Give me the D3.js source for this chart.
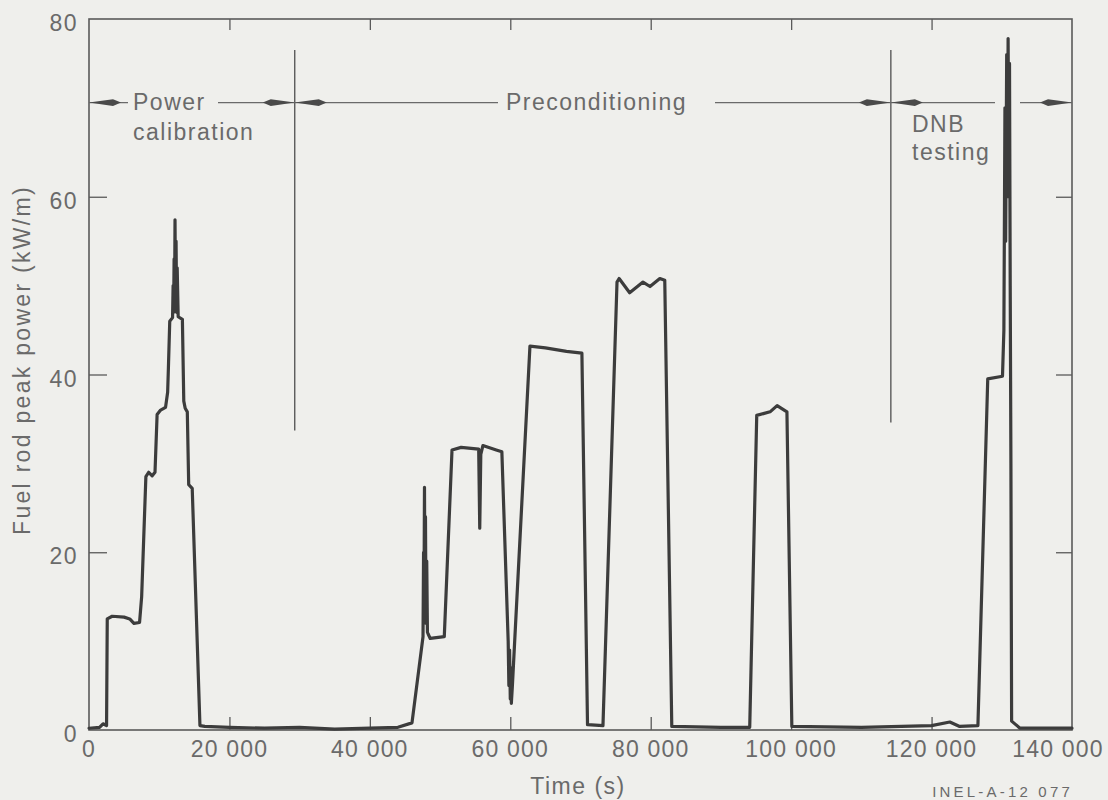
<!DOCTYPE html>
<html>
<head>
<meta charset="utf-8">
<script src="https://cdn.jsdelivr.net/npm/d3@7"></script>
<style>
  html, body { margin: 0; padding: 0; background: #efefec; }
  svg { display: block; }
  text { font-family: "Liberation Sans", Arial, sans-serif; fill: #6a6a6a; }
</style>
</head>
<body>
<svg id="chart" width="1108" height="800"></svg>
<script>
// ---- data (time in s, fuel rod peak power in kW/m) ----
const timeS = [
  0, 1500, 2000, 2500, 2600, 3300, 5000, 5800, 6400, 7200, 7500, 8100, 8500, 9000, 9400,
  9700, 10200, 10900, 11200, 11300, 11500, 11900, 11980, 12050, 12120, 12190, 12250, 12320,
  12400, 12480, 12560, 12700, 13300, 13500, 13700, 14000, 14200, 14700, 15800, 16500, 20000,
  25000, 30000, 35000, 40000, 44000, 46000, 47570, 47650, 47700, 47780, 47850, 47920, 48000,
  48100, 48200, 48300, 48600, 50600, 51700, 53000, 55500, 55650, 55800, 56100, 58000, 58800,
  59700, 59800, 59900, 60000, 60100, 60150, 60300, 62800, 65000, 68000, 70200, 71000, 73200,
  75200, 75500, 77000, 78900, 79900, 81300, 82000, 83000, 90000, 94100, 95100, 97000, 98000,
  99400, 100100, 110000, 120000, 122600, 124000, 126600, 128000, 130100, 130300, 130450,
  130550, 130700, 130800, 130900, 131000, 131100, 131200, 131300, 131400, 132600, 140000
];
const powerKWm = [
  0.2, 0.3, 0.7, 0.5, 12.5, 12.8, 12.7, 12.5, 12.0, 12.1, 15, 28.5, 29.0, 28.6, 29.0,
  35.5, 36.0, 36.3, 38, 40.5, 46.0, 46.4, 50, 47, 53, 48, 57.4, 49,
  55, 47, 52, 46.5, 46.2, 37, 36.2, 35.8, 27.6, 27.2, 0.5, 0.4, 0.3,
  0.2, 0.3, 0.1, 0.2, 0.3, 0.8, 10.5, 20, 13, 27.3, 14, 24, 12,
  19, 11, 10.8, 10.3, 10.5, 31.5, 31.8, 31.6, 22.7, 31.0, 32.0, 31.5, 31.3,
  10, 5, 9, 3.5, 7, 3.0, 5, 43.2, 43.0, 42.6, 42.4, 0.6, 0.5,
  50.4, 50.8, 49.2, 50.4, 49.9, 50.8, 50.6, 0.4, 0.3, 0.3, 35.4, 35.8, 36.5,
  35.8, 0.4, 0.3, 0.5, 0.9, 0.4, 0.5, 39.5, 39.8, 45, 70,
  55, 76, 60, 77.8, 62, 75, 50, 30, 1.0, 0.2, 0.2
];
const xTicks = [0, 20000, 40000, 60000, 80000, 100000, 120000, 140000];
const xTickLabels = ["0", "20 000", "40 000", "60 000", "80 000", "100 000", "120 000", "140 000"];
const yTicks = [0, 20, 40, 60, 80];
const yTickLabels = ["0", "20", "40", "60", "80"];
const phaseNames = ["Power calibration", "Preconditioning", "DNB testing"];
const phaseBoundaries = [29300, 114200];   // s

// ---- layout ----
const svg = d3.select("#chart");
const x = d3.scaleLinear().domain([0, 140000]).range([89, 1072]);
const y = d3.scaleLinear().domain([0, 80]).range([730, 19]);
const axisColor = "#5a5a5a";

// frame
svg.append("rect")
  .attr("x", x(0)).attr("y", y(80))
  .attr("width", x(140000) - x(0)).attr("height", y(0) - y(80))
  .attr("fill", "none").attr("stroke", axisColor).attr("stroke-width", 1.6);

// axes with inward ticks, labels drawn separately
const inner = xTicks.slice(1, -1);
const innerY = yTicks.slice(1, -1);
const gB = svg.append("g").attr("transform", `translate(0,${y(0)})`)
  .call(d3.axisTop(x).tickValues(inner).tickSize(13).tickFormat(""));
const gT = svg.append("g").attr("transform", `translate(0,${y(80)})`)
  .call(d3.axisBottom(x).tickValues(inner).tickSize(11).tickFormat(""));
const gL = svg.append("g").attr("transform", `translate(${x(0)},0)`)
  .call(d3.axisRight(y).tickValues(innerY).tickSize(18).tickFormat(""));
const gR = svg.append("g").attr("transform", `translate(${x(140000)},0)`)
  .call(d3.axisLeft(y).tickValues(innerY).tickSize(16).tickFormat(""));
[gB, gT, gL, gR].forEach(g => {
  g.select(".domain").remove();
  g.selectAll("line").attr("stroke", axisColor).attr("stroke-width", 1.3);
});

// tick labels
const lastTick = xTicks[xTicks.length - 1];
svg.append("g").selectAll("text").data(xTicks).join("text")
  .attr("x", d => d === lastTick ? x(d) - 14 : x(d)).attr("y", 757)
  .attr("text-anchor", "middle")
  .attr("font-size", 23).attr("letter-spacing", 1.2)
  .text((d, i) => xTickLabels[i]);
svg.append("g").selectAll("text").data(yTicks).join("text")
  .attr("x", 78).attr("y", d => y(d) + 12)
  .attr("text-anchor", "end")
  .attr("font-size", 23).attr("letter-spacing", 1.5)
  .text((d, i) => yTickLabels[i]);

// axis titles
svg.append("text")
  .attr("x", 578).attr("y", 794).attr("text-anchor", "middle")
  .attr("font-size", 23).attr("letter-spacing", 1.5)
  .text("Time (s)");
svg.append("text")
  .attr("transform", `translate(30,${360}) rotate(-90)`)
  .attr("text-anchor", "middle")
  .attr("font-size", 23).attr("letter-spacing", 2.3)
  .text("Fuel rod peak power (kW/m)");
svg.append("text")
  .attr("x", 1073).attr("y", 797).attr("text-anchor", "end")
  .attr("font-size", 15).attr("letter-spacing", 3.2)
  .text("INEL-A-12 077");

// phase annotations
const arrowY = y(70.6);
const ann = svg.append("g");
phaseBoundaries.forEach(t => {
  ann.append("line")
    .attr("x1", x(t)).attr("x2", x(t))
    .attr("y1", y(76.5)).attr("y2", y(t < 60000 ? 33.7 : 34.6))
    .attr("stroke", axisColor).attr("stroke-width", 1.4);
});
const segs = [
  [x(0), 128], [218, x(phaseBoundaries[0])],
  [x(phaseBoundaries[0]), 498], [715, 995], [1020, x(140000)]
];
segs.forEach(s => {
  ann.append("line").attr("x1", s[0]).attr("x2", s[1])
    .attr("y1", arrowY).attr("y2", arrowY)
    .attr("stroke", "#6a6a6a").attr("stroke-width", 1.3);
});
function arrowHead(tipX, dir) {
  const L = 24, H = 3.4;
  ann.append("path")
    .attr("d", `M${tipX},${arrowY} L${tipX + dir * L},${arrowY - H} L${tipX + dir * (L + 8)},${arrowY} L${tipX + dir * L},${arrowY + H} Z`)
    .attr("fill", "#4a4a4a");
}
arrowHead(x(0), 1);
arrowHead(x(phaseBoundaries[0]), -1);
arrowHead(x(phaseBoundaries[0]), 1);
arrowHead(x(phaseBoundaries[1]), -1);
arrowHead(x(phaseBoundaries[1]), 1);
arrowHead(x(140000), -1);

const annStyle = t => t.attr("font-size", 23).attr("letter-spacing", 1.5);
annStyle(ann.append("text").attr("x", 133).attr("y", 110).text("Power"));
annStyle(ann.append("text").attr("x", 133).attr("y", 140).text("calibration"));
annStyle(ann.append("text").attr("x", 506).attr("y", 110).text("Preconditioning"));
annStyle(ann.append("text").attr("x", 912).attr("y", 132).text("DNB"));
annStyle(ann.append("text").attr("x", 912).attr("y", 160).text("testing"));

// data line
const pts = timeS.map((t, i) => [t, powerKWm[i]]);
const line = d3.line().x(d => x(d[0])).y(d => y(d[1]));
svg.append("path").datum(pts)
  .attr("d", line)
  .attr("fill", "none")
  .attr("stroke", "#3c3c3c")
  .attr("stroke-width", 3.2)
  .attr("stroke-linejoin", "round")
  .attr("stroke-linecap", "round");
</script>
</body>
</html>
